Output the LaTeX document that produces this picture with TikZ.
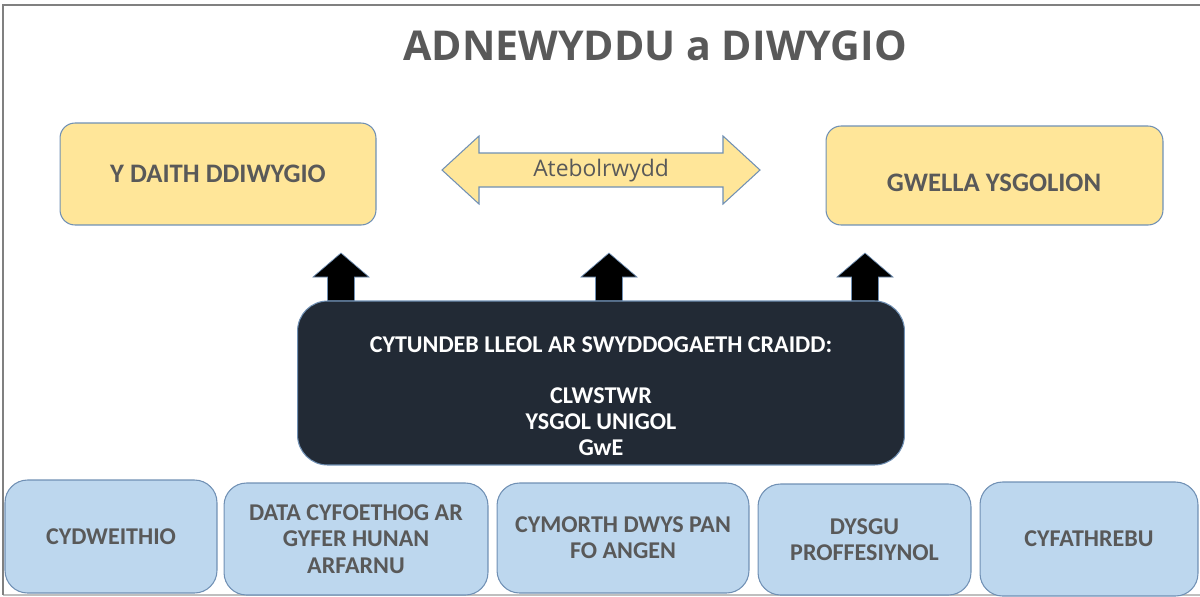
\documentclass[tikz,border=0pt]{standalone}
\usepackage{fontspec}
\setmainfont{Carlito}
\newfontfamily\opensans{Open Sans}
\usetikzlibrary{positioning}

\definecolor{boxyellow}{HTML}{FFE699}
\definecolor{boxblue}{HTML}{BDD7EE}
\definecolor{boxdark}{HTML}{222A35}
\definecolor{edgeblue}{HTML}{7090B4}
\definecolor{textgray}{HTML}{595959}
\definecolor{framegray}{HTML}{808080}

\tikzset{
	topbox/.style={draw=edgeblue, fill=boxyellow, rounded corners=0.3cm, line width=0.6pt,
		text=textgray, font=\bfseries\fontsize{15.2}{17}\selectfont, align=center},
	basebox/.style={draw=edgeblue, fill=boxblue, rounded corners=0.45cm, line width=0.6pt,
		text=textgray, font=\bfseries\fontsize{13.7}{15}\selectfont, align=center},
	upblock/.style={fill=black, draw=edgeblue, line width=0.4pt},
}

\begin{document}
\begin{tikzpicture}[x=0.02cm, y=-0.02cm]
			%%%%% START %%%%%
			\useasboundingbox (0, 0) rectangle (1200, 596);
			
			% frame
			\draw[black!25, line width=0.8pt] (3, 595) -- (1200, 595);
			\draw[framegray, line width=1.3pt] (3, 595) -- (3, 5) -- (1200, 5);
			
			\node[text=textgray, font=\opensans\bfseries\fontsize{23.4}{27}\selectfont] (title) at (655, 46) {ADNEWYDDU a DIWYGIO};
			
			% top row
			\node[topbox, minimum width=6.32cm, minimum height=2.04cm] (ydaith) at (218, 174) {Y DAITH DDIWYGIO};
			\node[topbox, minimum width=6.74cm, minimum height=1.98cm] (gwella) at (994.5, 175.5) {};
			\node[text=textgray, font=\bfseries\fontsize{15.2}{17}\selectfont] (gwellatext) at (994, 183) {GWELLA YSGOLION};
			
			\draw[draw=edgeblue, fill=boxyellow, line width=0.6pt] (442, 170) -- (479, 136) -- (479, 153) -- (723, 153) -- (723, 136) -- (760, 170)
				-- (723, 204) -- (723, 187) -- (479, 187) -- (479, 204) -- cycle;
			\node[text=textgray, font=\opensans\fontsize{13}{15}\selectfont] (atebol) at (601, 171) {Atebolrwydd};
			
			% arrows up
			\draw[upblock] (341, 253) -- (369, 277) -- (354.5, 277) -- (354.5, 301) -- (327.5, 301) -- (327.5, 277) -- (313, 277) -- cycle;
			\draw[upblock] (609, 253) -- (637, 277) -- (622.5, 277) -- (622.5, 301) -- (595.5, 301) -- (595.5, 277) -- (581, 277) -- cycle;
			\draw[upblock] (865, 253) -- (893, 277) -- (878.5, 277) -- (878.5, 301) -- (851.5, 301) -- (851.5, 277) -- (837, 277) -- cycle;
			
			% core agreement
			\node[draw=edgeblue, fill=boxdark, rounded corners=0.6cm, line width=0.6pt, minimum width=12.14cm, minimum height=3.28cm] (craidd) at (601, 383) {};
			\node[text=white, font=\bfseries\fontsize{13.7}{14.7}\selectfont, align=center] (craiddtext) at (601, 396)
				{CYTUNDEB LLEOL AR SWYDDOGAETH CRAIDD:\\[14.7pt]CLWSTWR\\YSGOL UNIGOL\\GwE};
			
			% bottom row
			\node[basebox, minimum width=4.24cm, minimum height=2.26cm] (cydweithio) at (111, 536.5) {CYDWEITHIO};
			\node[basebox, minimum width=5.28cm, minimum height=2.24cm] (data) at (356, 539) {DATA CYFOETHOG AR\\GYFER HUNAN\\ARFARNU};
			\node[basebox, minimum width=5.04cm, minimum height=2.2cm] (cymorth) at (623, 538) {CYMORTH DWYS PAN\\FO ANGEN};
			\node[basebox, minimum width=4.26cm, minimum height=2.22cm] (dysgu) at (864.5, 539.5) {DYSGU\\PROFFESIYNOL};
			\node[basebox, minimum width=4.36cm, minimum height=2.28cm] (cyfathrebu) at (1089, 539) {CYFATHREBU};
			
			%%%%% END %%%%%
\end{tikzpicture}
\end{document}
